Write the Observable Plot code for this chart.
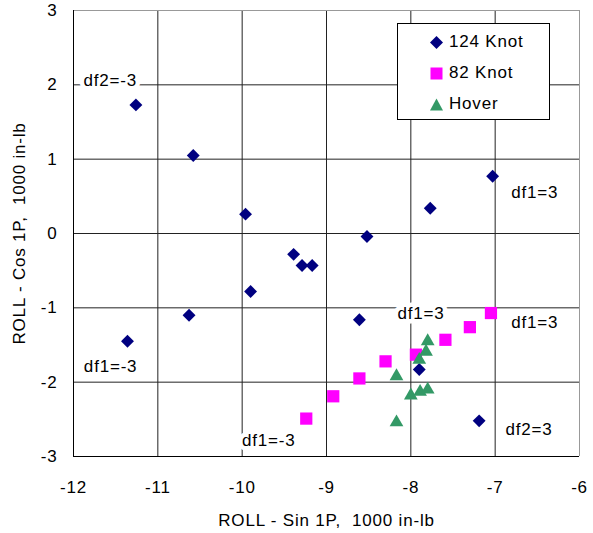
<!DOCTYPE html>
<html>
<head>
<meta charset="utf-8">
<script src="https://cdn.jsdelivr.net/npm/d3@7"></script>
<script src="https://cdn.jsdelivr.net/npm/@observablehq/plot@0.6"></script>
<style>
  html, body { margin: 0; padding: 0; background: #fff; }
  #wrap { position: relative; width: 593px; height: 533px; font-family: "Liberation Sans", Arial, sans-serif; }
  #wrap svg text { letter-spacing: 0.8px; }
  #legend { position: absolute; left: 397px; top: 23px; width: 151px; height: 95px; border: 1px solid #000; background: #fff; font-size: 17px; letter-spacing: 0.8px; }
  #legend .row { position: absolute; left: 0; height: 20px; display: flex; align-items: center; }
  #legend svg { display: block; }
</style>
</head>
<body>
<div id="wrap"></div>
<script>
const xTicks = [-12, -11, -10, -9, -8, -7, -6];
const yTicks = [-3, -2, -1, 0, 1, 2, 3];
const xTitle = "ROLL - Sin 1P,  1000 in-lb";
const yTitle = "ROLL - Cos 1P,  1000 in-lb";

const seriesNames = ["124 Knot", "82 Knot", "Hover"];
const seriesColors = ["#000080", "#FF00FF", "#339966"];

const knot124X = [-11.26, -10.58, -9.96, -9.39, -9.29, -9.17, -8.52, -7.77, -7.03, -9.90, -10.63, -11.36, -8.61, -7.90, -7.19];
const knot124Y = [1.73, 1.05, 0.26, -0.28, -0.43, -0.43, -0.04, 0.34, 0.77, -0.78, -1.10, -1.45, -1.16, -1.83, -2.52];

const knot82X = [-9.24, -8.92, -8.61, -8.30, -7.94, -7.59, -7.30, -7.05];
const knot82Y = [-2.49, -2.19, -1.95, -1.72, -1.63, -1.43, -1.26, -1.07];

const hoverX = [-7.80, -7.82, -7.90, -8.17, -8.00, -7.89, -7.80, -8.17];
const hoverY = [-1.45, -1.59, -1.70, -1.92, -2.18, -2.13, -2.10, -2.54];

const noteText = ["df2=-3", "df1=3", "df1=-3", "df1=-3", "df1=3", "df1=3", "df2=3"];
const noteX = [-11.565, -6.53, -11.56, -9.686, -7.88, -6.53, -6.60];
const noteY = [2.06, 0.556, -1.79, -2.78, -1.08, -1.20, -2.635];

const zip = (xs, ys) => xs.map((x, i) => ({x, y: ys[i]}));
const d124 = zip(knot124X, knot124Y);
const d82 = zip(knot82X, knot82Y);
const dHover = zip(hoverX, hoverY);
const notes = noteText.map((t, i) => ({t, x: noteX[i], y: noteY[i]}));

const chart = Plot.plot({
  width: 593,
  height: 533,
  marginLeft: 73,
  marginRight: 14,
  marginTop: 10,
  marginBottom: 77,
  style: {fontFamily: "'Liberation Sans', Arial, sans-serif", fontSize: "17px", background: "#fff", overflow: "visible"},
  x: {domain: [xTicks[0], xTicks[xTicks.length - 1]]},
  y: {domain: [yTicks[0], yTicks[yTicks.length - 1]]},
  marks: [
    Plot.gridX(xTicks.slice(1, -1), {stroke: "#222", strokeOpacity: 1}),
    Plot.gridY(yTicks.slice(1, -1), {stroke: "#222", strokeOpacity: 1}),
    Plot.ruleY([yTicks[yTicks.length - 1]], {stroke: "#999"}),
    Plot.ruleX([xTicks[xTicks.length - 1]], {stroke: "#999"}),
    Plot.ruleX([xTicks[0]], {stroke: "#000"}),
    Plot.ruleY([yTicks[0]], {stroke: "#000"}),
    Plot.axisX({ticks: xTicks, tickSize: 0, tickPadding: 24, tickFormat: d => String(d), fontSize: 17,
      label: xTitle, labelAnchor: "center", labelOffset: 69, labelArrow: "none"}),
    Plot.axisY({ticks: yTicks, tickSize: 0, tickPadding: 16, tickFormat: d => String(d), fontSize: 17,
      label: yTitle, labelAnchor: "center", labelOffset: 61, labelArrow: "none"}),
    Plot.text(notes, {x: "x", y: "y", text: "t", fill: "#000", stroke: "#fff", strokeWidth: 9, fontSize: 17}),
    Plot.dot(d124, {x: "x", y: "y", symbol: "diamond2", fill: seriesColors[0], stroke: "none", r: 5.8}),
    Plot.dot(d82, {x: "x", y: "y", symbol: "square", fill: seriesColors[1], stroke: "none", r: 6.9}),
    Plot.dot(dHover, {x: "x", y: "y", symbol: "triangle", fill: seriesColors[2], stroke: "none", r: 5.1})
  ]
});

const wrap = document.getElementById("wrap");
wrap.appendChild(chart);

// legend
const legend = document.createElement("div");
legend.id = "legend";
const shapes = [
  '<polygon points="6.5,0 13,6.5 6.5,13 0,6.5" fill="' + seriesColors[0] + '"/>',
  '<rect x="0.5" y="0.5" width="12" height="12" fill="' + seriesColors[1] + '"/>',
  '<polygon points="6.5,0.5 13,12.5 0,12.5" fill="' + seriesColors[2] + '"/>'
];
const rowTops = [8, 39, 70];
seriesNames.forEach((name, i) => {
  const row = document.createElement("div");
  row.className = "row";
  row.style.top = rowTops[i] + "px";
  row.innerHTML = '<svg width="13" height="13" style="margin-left:32px;margin-right:6px">' + shapes[i] + '</svg><span>' + name + '</span>';
  legend.appendChild(row);
});
wrap.appendChild(legend);
</script>
</body>
</html>
